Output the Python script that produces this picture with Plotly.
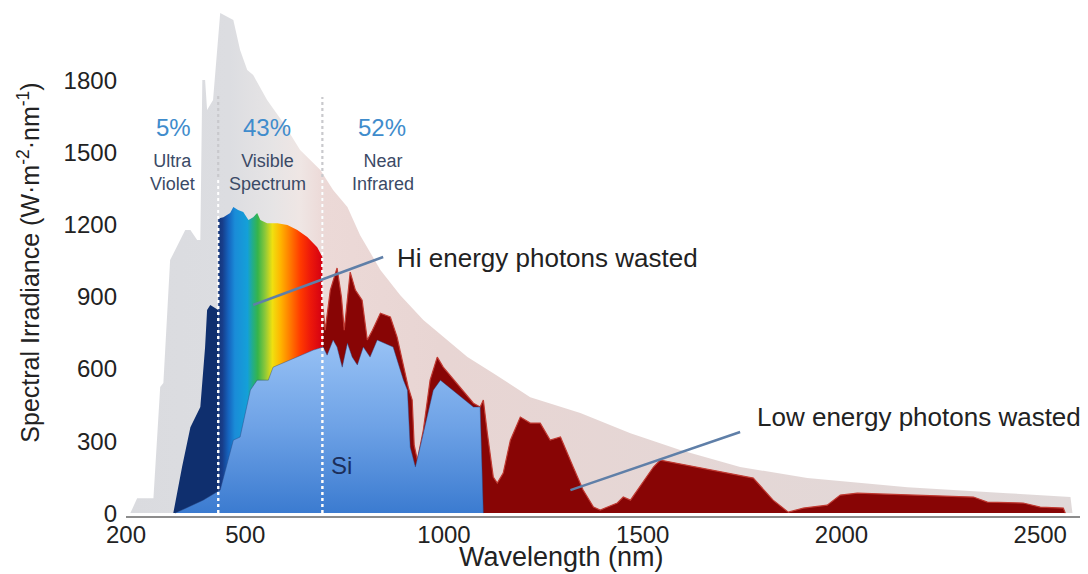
import plotly.graph_objects as go

# ---------------- data (wavelength nm, irradiance W m^-2 nm^-1) ----------------
envelope_wl = [211, 228, 269, 286, 294, 311, 349, 362, 379, 387, 392, 399, 404, 419, 437, 455,
               470, 487, 505, 520, 555, 596, 638, 689, 721, 757, 789, 840, 890, 948, 998, 1059,
               1124, 1217, 1343, 1469, 1594, 1745, 1914, 2166, 2417, 2576, 2581]
envelope_irr = [0, 62, 62, 525, 542, 1054, 1179, 1179, 1138, 1138, 1804, 1804, 1679, 1721, 2083, 2067,
                2054, 1929, 1846, 1825, 1721, 1625, 1513, 1429, 1346, 1275, 1158, 1013, 908, 804, 733, 650,
                583, 483, 417, 333, 263, 192, 146, 108, 83, 67, 0]

uv_wl = [319, 341, 362, 382, 387, 399, 404, 412, 425, 432, 432]
uv_irr = [0, 192, 358, 429, 442, 692, 846, 867, 854, 846, 0]

visible_wl = [432, 432, 437, 445, 462, 470, 482, 495, 508, 520, 530, 538, 555, 581, 606, 631,
              656, 681, 694, 694]
visible_irr = [0, 1225, 1229, 1233, 1250, 1275, 1263, 1254, 1221, 1233, 1250, 1221, 1208, 1208, 1200, 1179,
               1150, 1108, 1067, 0]

ir_wl = [694, 694, 701, 714, 731, 742, 749, 764, 777, 794, 807, 820, 840, 865, 882, 898, 910, 920,
         925, 933, 948, 965, 983, 998, 1074, 1091, 1099, 1109, 1124, 1134, 1149, 1167, 1192, 1217,
         1242, 1267, 1293, 1325, 1350, 1376, 1393, 1436, 1451, 1469, 1527, 1544, 1763, 1778, 1828,
         1866, 1904, 1964, 1997, 2040, 2332, 2367, 2457, 2500, 2558, 2563]
ir_irr = [0, 887, 762, 929, 1021, 900, 762, 1004, 929, 887, 721, 762, 833, 817, 733, 608, 525, 471,
          283, 221, 346, 554, 650, 608, 458, 442, 471, 333, 150, 125, 167, 304, 400, 375,
          375, 304, 317, 192, 96, 25, 13, 42, 67, 54, 192, 221, 150, 146, 54,
          4, 21, 33, 75, 83, 67, 46, 42, 25, 21, 0]

si_wl = [324, 394, 437, 457, 470, 487, 513, 530, 558, 570, 613, 671, 696, 706, 721, 731, 744, 757,
         769, 782, 797, 814, 832, 872, 898, 908, 915, 928, 940, 973, 991, 1023, 1074, 1091, 1099]
si_irr = [0, 54, 96, 221, 304, 317, 513, 554, 554, 608, 638, 679, 692, 658, 721, 692, 608, 708,
          650, 617, 692, 650, 721, 692, 554, 512, 275, 192, 275, 512, 554, 512, 442, 442, 0]

boundary_wl = [432, 694]
boundary_top = [1742, 1733]

hi_arrow_wl = [520, 847]
hi_arrow_irr = [867, 1067]
low_arrow_wl = [1318, 1745]
low_arrow_irr = [96, 338]

x_ticks = [200, 500, 1000, 1500, 2000, 2500]
y_ticks = [0, 300, 600, 900, 1200, 1500, 1800]

FONT = "Liberation Sans, Arial, Helvetica, sans-serif"

fig = go.Figure()

# extraterrestrial envelope
fig.add_trace(go.Scatter(
    x=envelope_wl, y=envelope_irr, mode="lines", fill="tozeroy",
    line=dict(width=0, color="#dcdde1"),
    fillgradient=dict(type="horizontal", start=211, stop=2581,
                      colorscale=[[0, "#dadbdf"], [0.105, "#dcdde1"], [0.15, "#e6e4e5"],
                                  [0.18, "#efe6e4"], [0.205, "#ecd9d7"], [0.33, "#e8d5d3"],
                                  [1, "#e0d9d9"]]),
    hoverinfo="skip", showlegend=False))

# near infrared AM1.5
fig.add_trace(go.Scatter(
    x=ir_wl, y=ir_irr, mode="lines", fill="tozeroy",
    line=dict(width=1.2, color="#c03a32"), fillcolor="#880505",
    hoverinfo="skip", showlegend=False))

# visible rainbow
fig.add_trace(go.Scatter(
    x=visible_wl, y=visible_irr, mode="lines", fill="tozeroy",
    line=dict(width=0, color="#d40012"),
    fillgradient=dict(type="horizontal", start=432, stop=694,
                      colorscale=[[0, "#13357a"], [0.04, "#173d8a"], [0.10, "#1565c0"],
                                  [0.16, "#1a8cd8"], [0.28, "#14a0d8"], [0.33, "#22ad8a"],
                                  [0.38, "#36b44a"], [0.45, "#8cc83a"], [0.52, "#f0e010"],
                                  [0.60, "#ffb400"], [0.69, "#ff7a00"], [0.79, "#ff3a00"],
                                  [0.88, "#ee1a0a"], [1, "#d40012"]]),
    hoverinfo="skip", showlegend=False))

# ultra violet
fig.add_trace(go.Scatter(
    x=uv_wl, y=uv_irr, mode="lines", fill="tozeroy",
    line=dict(width=0, color="#0f2f6e"), fillcolor="#0f2f6e",
    hoverinfo="skip", showlegend=False))

# silicon usable part
fig.add_trace(go.Scatter(
    x=si_wl, y=si_irr, mode="lines", fill="tozeroy",
    line=dict(width=0.8, color="rgba(40,70,130,0.55)"),
    fillgradient=dict(type="vertical", start=0, stop=720,
                      colorscale=[[0, "#3b7bd0"], [0.5, "#6ea2e6"], [1, "#98c2f5"]]),
    hoverinfo="skip", showlegend=False))

# boundary dotted lines
for wl, top in zip(boundary_wl, boundary_top):
    fig.add_trace(go.Scatter(x=[wl, wl], y=[0, top], mode="lines",
                             line=dict(color="#c9c9cd", width=2.2, dash="dot"),
                             hoverinfo="skip", showlegend=False))
    fig.add_trace(go.Scatter(x=[wl, wl], y=[0, min(top, 1400)], mode="lines",
                             line=dict(color="#ffffff", width=2.2, dash="dot"),
                             hoverinfo="skip", showlegend=False))

# pointer lines
fig.add_trace(go.Scatter(x=hi_arrow_wl, y=hi_arrow_irr, mode="lines",
                         line=dict(color="#5f7fa8", width=2.5),
                         hoverinfo="skip", showlegend=False))
fig.add_trace(go.Scatter(x=low_arrow_wl, y=low_arrow_irr, mode="lines",
                         line=dict(color="#5f7fa8", width=2.5),
                         hoverinfo="skip", showlegend=False))

annotations = [
    dict(x=319, y=1608, text="5%", font=dict(size=24, color="#3f8ccc")),
    dict(x=555, y=1608, text="43%", font=dict(size=24, color="#3f8ccc")),
    dict(x=845, y=1608, text="52%", font=dict(size=24, color="#3f8ccc")),
    dict(x=316, y=1417, text="Ultra<br>Violet", font=dict(size=18, color="#3b4a66")),
    dict(x=555, y=1417, text="Visible<br>Spectrum", font=dict(size=18, color="#3b4a66")),
    dict(x=847, y=1417, text="Near<br>Infrared", font=dict(size=18, color="#3b4a66")),
    dict(x=741, y=200, text="Si", font=dict(size=24, color="#1b2e5a")),
    dict(x=877, y=1063, text="Hi energy photons wasted", xanchor="left",
         font=dict(size=26, color="#222222")),
    dict(x=1783, y=400, text="Low energy photons wasted", xanchor="left",
         font=dict(size=26, color="#222222")),
]
for a in annotations:
    a.setdefault("xanchor", "center")
    a.update(xref="x", yref="y", showarrow=False, yanchor="middle")
    a["font"]["family"] = FONT

# plot area: 954 px wide, 507 px tall
annotations.append(dict(x=(561 - 126) / 954, y=(516 - 557) / 507, xref="paper", yref="paper",
                        text="Wavelength (nm)", showarrow=False, xanchor="center", yanchor="middle",
                        font=dict(family=FONT, size=27, color="#222222")))

# the page body adds an 8 px offset, so the figure is 8 px smaller on each axis
fig.update_layout(
    width=1080, height=566,
    margin=dict(l=118, r=8, t=1, b=58),
    paper_bgcolor="white", plot_bgcolor="white",
    font=dict(family=FONT, color="#222222"),
    annotations=annotations,
    xaxis=dict(range=[200, 2600], tickvals=x_ticks, showgrid=False, zeroline=False,
               showline=True, linecolor="#8c8c8c", linewidth=2, ticks="", automargin=False,
               ticklabelstandoff=-4,
               tickfont=dict(size=24, color="#222222")),
    yaxis=dict(range=[-12, 2100], tickvals=y_ticks, showgrid=False, zeroline=False,
               showline=False, ticks="", automargin=False, ticklabelstandoff=8,
               tickfont=dict(size=24, color="#222222"),
               title=dict(text="Spectral Irradiance (W·m<sup>-2</sup>·nm<sup>-1</sup>)",
                          font=dict(size=25, color="#222222"), standoff=16)),
)

fig.write_html("out.html")
